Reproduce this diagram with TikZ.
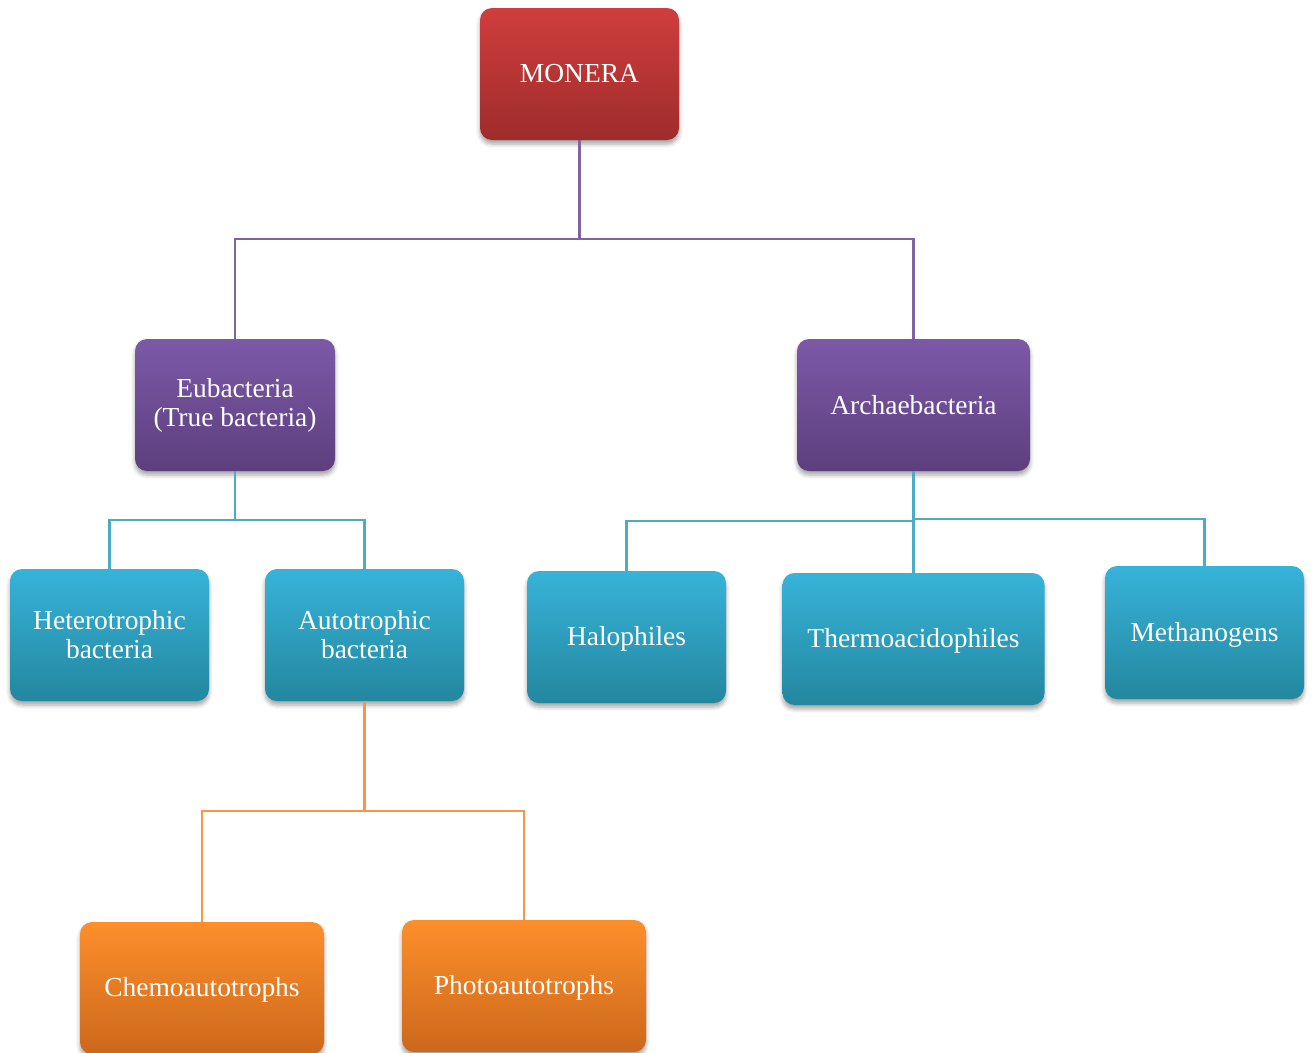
\documentclass[tikz,border=0pt]{standalone}
\usepackage{fontspec}
\setmainfont{Liberation Serif}
\usetikzlibrary{shadows.blur}

\definecolor{redtop}{HTML}{CF3E3D}
\definecolor{redbot}{HTML}{9E2C2B}
\definecolor{purtop}{HTML}{7C59A8}
\definecolor{purbot}{HTML}{5D3F7D}
\definecolor{blutop}{HTML}{37B3D9}
\definecolor{blubot}{HTML}{23879F}
\definecolor{ortop}{HTML}{FD8F2B}
\definecolor{orbot}{HTML}{CC681C}
\definecolor{purline}{HTML}{8064A2}
\definecolor{bluline}{HTML}{4BACC6}
\definecolor{orline}{HTML}{F79646}

\tikzset{
  box/.style={rounded corners=9pt, inner sep=2pt, align=center, text=white,
    font=\fontsize{20.6}{21.8}\selectfont,
    blur shadow={shadow xshift=0pt, shadow yshift=-3pt, shadow blur radius=3pt, shadow opacity=35}},
  lowtext/.style={text height=17.5pt, text depth=4.3pt},
  redbox/.style={box, top color=redtop, bottom color=redbot},
  purbox/.style={box, top color=purtop, bottom color=purbot},
  blubox/.style={box, top color=blutop, bottom color=blubot},
  orbox/.style={box, top color=ortop, bottom color=orbot},
  purlink/.style={draw=purline, line width=1.6pt},
  blulink/.style={draw=bluline, line width=1.6pt},
  orlink/.style={draw=orline, line width=1.6pt},
}

\begin{document}
\begin{tikzpicture}[x=0.75pt, y=-0.75pt]
\useasboundingbox (0,0) rectangle (1315,1053);

% nodes
\node[redbox, minimum width=149.25pt, minimum height=99pt] (monera) at (579.5,74) {MONERA};
\node[purbox, minimum width=150pt, minimum height=99pt] (eu) at (235,405) {Eubacteria\\(True bacteria)};
\node[purbox, minimum width=174.75pt, minimum height=99pt] (ar) at (913.5,405) {Archaebacteria};
\node[blubox, minimum width=149.25pt, minimum height=99pt] (het) at (109.5,635) {Heterotrophic\\bacteria};
\node[blubox, minimum width=149.25pt, minimum height=99pt] (aut) at (364.5,635) {Autotrophic\\bacteria};
\node[blubox, lowtext, minimum width=149.25pt, minimum height=99pt] (hal) at (626.5,637) {Halophiles};
\node[blubox, lowtext, minimum width=196.5pt, minimum height=99pt] (the) at (913.5,639) {Thermoacidophiles};
\node[blubox, lowtext, minimum width=149.25pt, minimum height=99.75pt] (met) at (1204.5,632.5) {Methanogens};
\node[orbox, lowtext, minimum width=183pt, minimum height=99pt] (che) at (202,988) {Chemoautotrophs};
\node[orbox, lowtext, minimum width=183pt, minimum height=99pt] (pho) at (524,986) {Photoautotrophs};

% connectors
\draw[purlink] (monera.south) -- ++(0,99) coordinate (m1);
\draw[purlink] (m1) -| (eu.north);
\draw[purlink] (m1) -| (ar.north);

\draw[blulink] (eu.south) -- ++(0,49) coordinate (e1);
\draw[blulink] (e1) -| (het.north);
\draw[blulink] (e1) -| (aut.north);

\draw[blulink] (ar.south) -- (the.north);
\path (ar.south) ++(0,50) coordinate (a1);
\draw[blulink] (a1) -| (hal.north);
\path (ar.south) ++(0,48) coordinate (a2);
\draw[blulink] (a2) -| (met.north);

\draw[orlink] (aut.south) -- ++(0,110) coordinate (o1);
\draw[orlink] (o1) -| (che.north);
\draw[orlink] (o1) -| (pho.north);
\end{tikzpicture}
\end{document}
